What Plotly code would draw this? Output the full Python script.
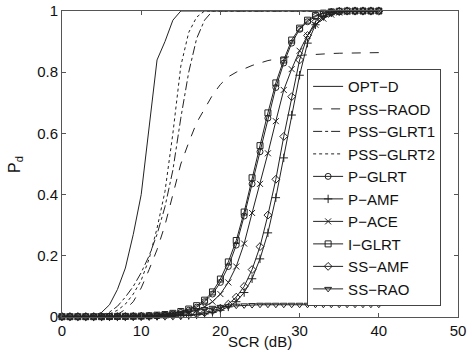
import plotly.graph_objects as go

scr = list(range(0, 41))

opt_d = [0, 0, 0, 0.001, 0.005, 0.015, 0.04, 0.09, 0.16, 0.27, 0.40, 0.62, 0.84, 0.90, 0.97, 1.0,
         1, 1, 1, 1, 1, 1, 1, 1, 1, 1, 1, 1, 1, 1, 1, 1, 1, 1, 1, 1, 1, 1, 1, 1, 1]
pss_raod = [0, 0, 0, 0, 0, 0, 0.002, 0.008, 0.025, 0.05, 0.095, 0.155, 0.22, 0.30, 0.40, 0.50,
            0.57, 0.635, 0.68, 0.725, 0.76, 0.785, 0.80, 0.812, 0.822, 0.83, 0.838, 0.843, 0.848,
            0.852, 0.855, 0.857, 0.859, 0.86, 0.861, 0.862, 0.862, 0.863, 0.863, 0.864, 0.864]
pss_glrt1 = [0, 0, 0, 0, 0.001, 0.006, 0.016, 0.035, 0.065, 0.10, 0.145, 0.20, 0.27, 0.36, 0.48,
             0.65, 0.80, 0.91, 0.97, 1.0, 1, 1, 1, 1, 1, 1, 1, 1, 1, 1, 1, 1, 1, 1, 1, 1, 1, 1, 1, 1, 1]
pss_glrt2 = [0, 0, 0, 0, 0.001, 0.004, 0.01, 0.022, 0.042, 0.075, 0.12, 0.19, 0.29, 0.41, 0.60,
             0.82, 0.93, 0.98, 1.0, 1, 1, 1, 1, 1, 1, 1, 1, 1, 1, 1, 1, 1, 1, 1, 1, 1, 1, 1, 1, 1, 1]
p_glrt = [0.001, 0.001, 0.001, 0.001, 0.001, 0.001, 0.0012, 0.0015, 0.002, 0.0025, 0.003, 0.004,
          0.005, 0.007, 0.01, 0.015, 0.022, 0.032, 0.05, 0.075, 0.113, 0.165, 0.235, 0.33, 0.435,
          0.54, 0.65, 0.75, 0.83, 0.895, 0.94, 0.965, 0.982, 0.992, 0.997, 0.999, 1, 1, 1, 1, 1]
p_amf = [0.001, 0.001, 0.001, 0.001, 0.001, 0.001, 0.001, 0.001, 0.001, 0.0012, 0.0015, 0.002,
         0.0025, 0.003, 0.0035, 0.004, 0.005, 0.007, 0.01, 0.015, 0.022, 0.033, 0.05, 0.08, 0.125,
         0.19, 0.275, 0.39, 0.52, 0.66, 0.79, 0.895, 0.955, 0.982, 0.994, 0.998, 1, 1, 1, 1, 1]
p_ace = [0.001, 0.001, 0.001, 0.001, 0.001, 0.001, 0.001, 0.0012, 0.0015, 0.002, 0.0025, 0.003,
         0.004, 0.005, 0.007, 0.01, 0.015, 0.022, 0.033, 0.05, 0.075, 0.113, 0.165, 0.24, 0.34,
         0.435, 0.535, 0.64, 0.742, 0.81, 0.87, 0.92, 0.955, 0.975, 0.988, 0.995, 0.998, 1, 1, 1, 1]
i_glrt = [0.001, 0.001, 0.001, 0.001, 0.001, 0.001, 0.0015, 0.002, 0.002, 0.0025, 0.003, 0.004,
          0.006, 0.008, 0.012, 0.018, 0.026, 0.037, 0.055, 0.082, 0.124, 0.18, 0.25, 0.343, 0.455,
          0.56, 0.667, 0.765, 0.84, 0.905, 0.944, 0.97, 0.985, 0.993, 0.997, 0.999, 1, 1, 1, 1, 1]
ss_amf = [0.001, 0.001, 0.001, 0.001, 0.001, 0.001, 0.001, 0.001, 0.0012, 0.0015, 0.002, 0.0025,
          0.003, 0.0035, 0.004, 0.005, 0.007, 0.01, 0.014, 0.02, 0.029, 0.042, 0.065, 0.10, 0.155,
          0.23, 0.333, 0.45, 0.59, 0.72, 0.84, 0.92, 0.965, 0.985, 0.995, 0.999, 1, 1, 1, 1, 1]
ss_rao = [0.001, 0.001, 0.001, 0.001, 0.001, 0.001, 0.001, 0.0015, 0.002, 0.0025, 0.003, 0.004,
          0.006, 0.008, 0.011, 0.014, 0.018, 0.022, 0.026, 0.03, 0.033, 0.035, 0.037, 0.038, 0.039,
          0.04, 0.04, 0.04, 0.04, 0.04, 0.04, 0.04, 0.04, 0.04, 0.04, 0.04, 0.04, 0.04, 0.04, 0.04, 0.04]

x_ticks = [0, 10, 20, 30, 40, 50]
y_ticks = [0, 0.2, 0.4, 0.6, 0.8, 1]

INK = "#222222"
FONT = "Liberation Sans, Arial, sans-serif"

series = [
    ("OPT−D", opt_d, "solid", None),
    ("PSS−RAOD", pss_raod, "dash", None),
    ("PSS−GLRT1", pss_glrt1, "dashdot", None),
    ("PSS−GLRT2", pss_glrt2, "dot", None),
    ("P−GLRT", p_glrt, "solid", "circle-open"),
    ("P−AMF", p_amf, "solid", "cross-thin-open"),
    ("P−ACE", p_ace, "solid", "x-thin-open"),
    ("I−GLRT", i_glrt, "solid", "square-open"),
    ("SS−AMF", ss_amf, "solid", "diamond-open"),
    ("SS−RAO", ss_rao, "solid", "triangle-down-open"),
]

fig = go.Figure()
for name, ys, dash, sym in series:
    kw = dict(x=scr, y=ys, name=name, line=dict(color=INK, width=1, dash=dash),
              cliponaxis=False, legendgroup=name)
    if sym is None:
        kw["mode"] = "lines"
    else:
        kw["mode"] = "lines+markers"
        kw["marker"] = dict(symbol=sym, size=6, color=INK, line=dict(color=INK, width=1))
    fig.add_trace(go.Scatter(**kw))

axis_common = dict(
    showgrid=False, zeroline=False, showline=True, linecolor="#555555", linewidth=1,
    mirror="ticks", ticks="inside", ticklen=4, tickcolor="#555555", automargin=False,
    tickfont=dict(family=FONT, size=15, color="#111111"),
)

fig.update_layout(
    width=472, height=359,
    margin=dict(l=62, r=14, t=11, b=42, autoexpand=False),
    paper_bgcolor="white", plot_bgcolor="white",
    font=dict(family=FONT, size=15, color="#111111"),
    xaxis=dict(range=[0, 50], tickvals=x_ticks, **axis_common),
    yaxis=dict(range=[0, 1], tickvals=y_ticks, **axis_common),
    legend=dict(x=0.619, y=0.81, xanchor="left", yanchor="top", bgcolor="white",
                bordercolor="#444444", borderwidth=1, tracegroupgap=0,
                font=dict(family=FONT, size=15, color="#111111")),
    showlegend=True,
    annotations=[
        dict(text="SCR (dB)", xref="paper", yref="paper", x=0.5, y=-0.08,
             xanchor="center", yanchor="middle", showarrow=False,
             font=dict(family=FONT, size=15, color="#111111")),
        dict(text="P<sub>d</sub>", xref="paper", yref="paper", x=-0.119, y=0.5,
             xanchor="center", yanchor="middle", textangle=-90, showarrow=False,
             font=dict(family=FONT, size=16, color="#111111")),
    ],
)

# remove the browser's default 8px body margin so the figure fills the window exactly
fig.write_html("out.html", config={"displayModeBar": False},
               post_script="document.body.style.margin='0';")
